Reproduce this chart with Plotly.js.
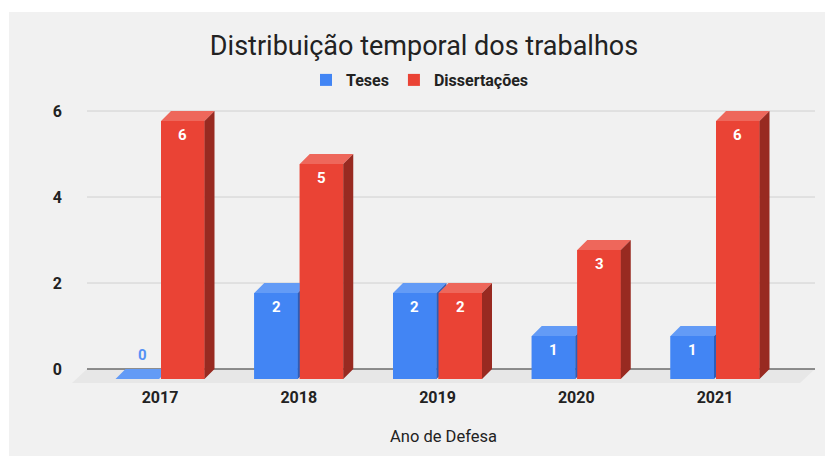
<!DOCTYPE html>
<html><head><meta charset="utf-8">
<script src="https://cdn.plot.ly/plotly-3.0.1.min.js"></script>
<style>html,body{margin:0;padding:0;background:#fff}</style>
</head><body><div id="chart" style="width:825px;height:456px"></div>
<script>
// ---- data ----
const years = ['2017', '2018', '2019', '2020', '2021'];
const teses = [0, 2, 2, 1, 1];
const dissertacoes = [6, 5, 2, 3, 6];
const seriesNames = ['Teses', 'Dissertações'];
const yTicks = [0, 2, 4, 6];

// ---- geometry / style constants (pixels) ----
const W = 825, H = 456, L = 72, R = 815, T = 100, B = 386;
const PX_X = 138.75, X0PX = 160, PX_Y = 43, Y0PX = 369;
const xr = [(L - X0PX) / PX_X, (R - X0PX) / PX_X];
const yr = [-(B - Y0PX) / PX_Y, (Y0PX - T) / PX_Y];
const DX = 10 / PX_X, DY = 10 / PX_Y;
const BW = 43.5 / PX_X, GAP = 1 / PX_X;
const FONT = 'Roboto, Arial, sans-serif';

const styles = [
  {front: '#4285f4', top: '#639bf6', side: '#2d5db8', off: -GAP - BW, zero: '#5592f5'},
  {front: '#ea4335', top: '#ee675b', side: '#982a21', off: GAP, zero: '#ea4335'}
];
const seriesVals = [teses, dissertacoes];
const idx = years.map((_, i) => i);

const barTraces = [];
const faceTraces = [];
const annotations = [];
seriesVals.forEach((vals, s) => {
  const st = styles[s];
  barTraces.push({
    type: 'bar', name: seriesNames[s], x: idx, y: vals, base: -DY,
    width: BW, offset: st.off,
    marker: {color: st.front, line: {width: 0}}, hoverinfo: 'skip'
  });
  const fx = [], fy = [], tx = [], ty = [], sx = [], sy = [];
  vals.forEach((v, i) => {
    const xl = i + st.off, xrr = xl + BW;
    fx.push(xl, xrr, xrr, xl, xl, null);
    fy.push(-DY, -DY, v - DY, v - DY, -DY, null);
    tx.push(xl, xrr, xrr + DX, xl + DX, xl, null);
    ty.push(v - DY, v - DY, v, v, v - DY, null);
    sx.push(xrr, xrr + DX, xrr + DX, xrr, xrr, null);
    sy.push(-DY, 0, v, v - DY, -DY, null);
    if (v > 0) {
      annotations.push({x: xl + BW / 2, y: v - DY, xref: 'x', yref: 'y', text: String(v),
        showarrow: false, yanchor: 'top', yshift: -3,
        font: {family: FONT, size: 15, color: '#ffffff', weight: 'bold'}});
    } else {
      annotations.push({x: xl + BW / 2 + DX / 2, y: 0, xref: 'x', yref: 'y', text: String(v),
        showarrow: false, yanchor: 'bottom', yshift: 3,
        font: {family: FONT, size: 15, color: st.zero, weight: 'bold'}});
    }
  });
  // front face redrawn as polygon so that later series occlude earlier ones correctly
  faceTraces.push({type: 'scatter', mode: 'lines', x: fx, y: fy, fill: 'toself',
    fillcolor: st.front, line: {width: 0, color: st.front}, showlegend: false, hoverinfo: 'skip'});
  faceTraces.push({type: 'scatter', mode: 'lines', x: tx, y: ty, fill: 'toself',
    fillcolor: st.top, line: {width: 0, color: st.top}, showlegend: false, hoverinfo: 'skip'});
  faceTraces.push({type: 'scatter', mode: 'lines', x: sx, y: sy, fill: 'toself',
    fillcolor: st.side, line: {width: 0, color: st.side}, showlegend: false, hoverinfo: 'skip'});
});
const traces = barTraces.concat(faceTraces);

// decoration: floor, gridlines, white border strips
const gxL = (87 - X0PX) / PX_X;
const floorDY = 14 / PX_Y, floorDX = 15 / PX_X;
const shapes = [
  {type: 'path', xref: 'x', yref: 'y', layer: 'below',
   path: `M ${gxL},0 L ${xr[1]},0 L ${xr[1] - floorDX},${-floorDY} L ${gxL - floorDX},${-floorDY} Z`,
   fillcolor: '#e7e7e7', line: {width: 0}}
];
yTicks.forEach(t => {
  shapes.push({type: 'line', xref: 'x', yref: 'y', layer: 'below', x0: gxL, x1: xr[1], y0: t, y1: t,
    line: {color: t === 0 ? '#6b6b6b' : '#d0d0d0', width: t === 0 ? 1.5 : 1}});
});
const pxX = p => (p - L) / (R - L), pxY = p => (B - p) / (B - T);
shapes.push({type: 'rect', xref: 'paper', yref: 'paper', layer: 'above',
  x0: pxX(0), x1: pxX(9), y0: pxY(H), y1: pxY(0), fillcolor: '#ffffff', line: {width: 0}});
shapes.push({type: 'rect', xref: 'paper', yref: 'paper', layer: 'above',
  x0: pxX(0), x1: pxX(W), y0: pxY(12), y1: pxY(0), fillcolor: '#ffffff', line: {width: 0}});

const layout = {
  width: W, height: H,
  margin: {l: L, r: W - R, t: T, b: H - B, pad: 0},
  paper_bgcolor: '#f1f1f1', plot_bgcolor: '#f1f1f1',
  barmode: 'overlay',
  title: {text: 'Distribuição temporal dos trabalhos', x: 424 / W, xref: 'container', xanchor: 'center',
    y: 1 - 46 / H, yref: 'container', yanchor: 'middle',
    font: {family: FONT, size: 27, color: '#222222'}},
  legend: {orientation: 'h', x: pxX(420), xanchor: 'center', y: pxY(80), yanchor: 'middle',
    bgcolor: 'rgba(0,0,0,0)', traceorder: 'normal',
    font: {family: FONT, size: 16, color: '#222222', weight: 'bold'}},
  xaxis: {range: xr, tickvals: idx, ticktext: years, showgrid: false, zeroline: false, showline: false,
    ticks: '', fixedrange: true,
    tickfont: {family: FONT, size: 16, color: '#222222', weight: 'bold'},
    title: {text: 'Ano de Defesa', standoff: 24, font: {family: FONT, size: 16.5, color: '#222222'}}},
  yaxis: {range: yr, tickvals: yTicks, showgrid: false, zeroline: false, showline: false, ticks: '',
    ticklabelstandoff: 9, fixedrange: true,
    tickfont: {family: FONT, size: 16, color: '#222222', weight: 'bold'}},
  shapes: shapes, annotations: annotations, hovermode: false, showlegend: true
};
Plotly.newPlot('chart', traces, layout, {displayModeBar: false, staticPlot: true});
</script></body></html>
